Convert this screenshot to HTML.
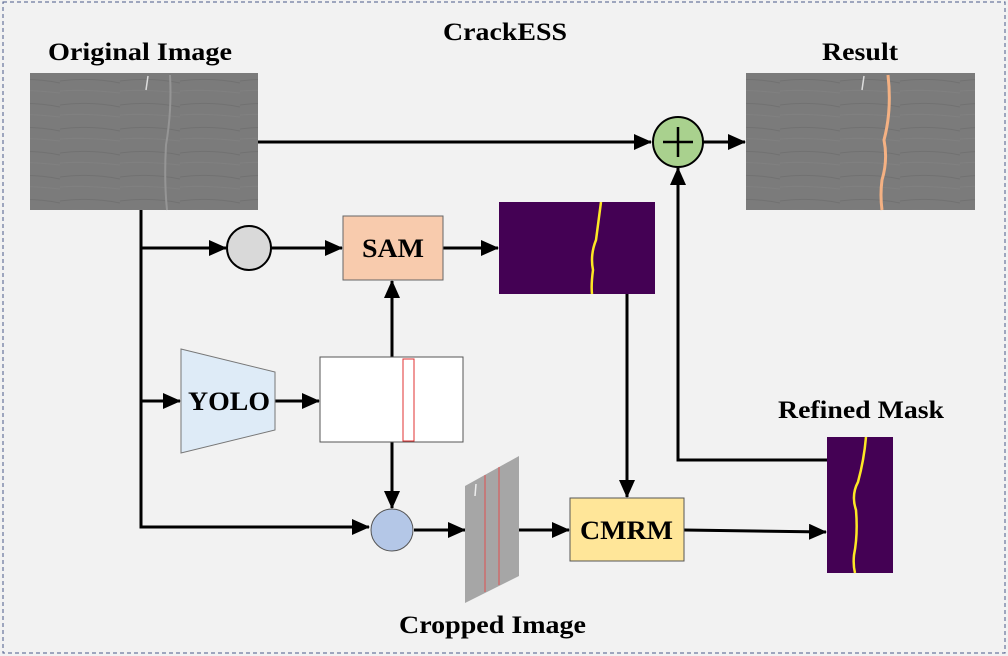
<!DOCTYPE html>
<html><head><meta charset="utf-8"><style>
html,body{margin:0;padding:0;background:#fff}
svg{display:block}
text{font-family:"Liberation Serif",serif;font-weight:bold;fill:#000}
</style></head><body>
<svg width="1008" height="656" viewBox="0 0 1008 656" xmlns="http://www.w3.org/2000/svg">
<defs>
<marker id="b" markerWidth="18" markerHeight="16" refX="17" refY="8" orient="auto" markerUnits="userSpaceOnUse" viewBox="0 0 18 16">
<path d="M0,0 L18,8 L0,16 z" fill="#000"/></marker>
<pattern id="tex" width="60" height="24" patternUnits="userSpaceOnUse">
<rect width="60" height="24" fill="#7b7b7b"/>
<path d="M0,9 Q30,5 60,11" stroke="#717171" stroke-width="1" fill="none"/>
<path d="M0,19 Q25,17 60,21" stroke="#808080" stroke-width="1" fill="none"/>
</pattern>
</defs>
<rect x="0" y="0" width="1008" height="656" fill="#f2f2f2"/>
<rect x="3" y="2" width="1002" height="651" fill="none" stroke="#4a5a8a" stroke-width="1" stroke-dasharray="4,3"/>

<text x="443" y="40" font-size="25" textLength="124" lengthAdjust="spacingAndGlyphs">CrackESS</text>
<text x="48" y="60" font-size="25" textLength="184" lengthAdjust="spacingAndGlyphs">Original Image</text>
<text x="822" y="60" font-size="25" textLength="76" lengthAdjust="spacingAndGlyphs">Result</text>
<text x="778" y="418" font-size="25" textLength="166" lengthAdjust="spacingAndGlyphs">Refined Mask</text>
<text x="399" y="633" font-size="25" textLength="187" lengthAdjust="spacingAndGlyphs">Cropped Image</text>

<rect x="30" y="73" width="228" height="137" fill="url(#tex)"/>
<path d="M170,75 Q172,110 166,145 Q164,180 167,210" stroke="#959595" stroke-width="2" fill="none"/>
<line x1="148" y1="76" x2="146" y2="90" stroke="#ddd" stroke-width="1.5"/>
<rect x="746" y="73" width="229" height="137" fill="url(#tex)"/>
<path d="M888,75 Q892,110 884,140 Q888,160 882,180 Q880,195 882,210" stroke="#f4b183" stroke-width="3" fill="none"/>
<line x1="864" y1="76" x2="862" y2="90" stroke="#ddd" stroke-width="1.5"/>

<g stroke="#000" stroke-width="3" fill="none">
<line x1="258" y1="142" x2="651" y2="142" marker-end="url(#b)"/>
<line x1="703" y1="142" x2="745" y2="142" marker-end="url(#b)"/>
<polyline points="141,210 141,527 369,527" marker-end="url(#b)"/>
<line x1="141" y1="248" x2="226" y2="248" marker-end="url(#b)"/>
<line x1="271" y1="248" x2="342" y2="248" marker-end="url(#b)"/>
<line x1="443" y1="248" x2="498" y2="248" marker-end="url(#b)"/>
<line x1="141" y1="401" x2="180" y2="401" marker-end="url(#b)"/>
<line x1="275" y1="401" x2="319" y2="401" marker-end="url(#b)"/>
<line x1="392" y1="357" x2="392" y2="281" marker-end="url(#b)"/>
<line x1="392" y1="442" x2="392" y2="508" marker-end="url(#b)"/>
<line x1="627" y1="294" x2="627" y2="497" marker-end="url(#b)"/>
<line x1="414" y1="530" x2="465" y2="530" marker-end="url(#b)"/>
<line x1="519" y1="530" x2="569" y2="530" marker-end="url(#b)"/>
<line x1="684" y1="530" x2="826" y2="532" marker-end="url(#b)"/>
<polyline points="827,460 678,460 678,168" marker-end="url(#b)"/>
</g>

<circle cx="678" cy="142" r="25" fill="#a9d18e" stroke="#000" stroke-width="2"/>
<line x1="663" y1="142" x2="693" y2="142" stroke="#000" stroke-width="2.5"/>
<line x1="678" y1="127" x2="678" y2="157" stroke="#000" stroke-width="2.5"/>

<circle cx="249" cy="248" r="22" fill="#d9d9d9" stroke="#000" stroke-width="2"/>
<rect x="343" y="216" width="100" height="64" fill="#f8cbad" stroke="#666" stroke-width="1"/>
<text x="362" y="257" font-size="26" textLength="62" lengthAdjust="spacingAndGlyphs">SAM</text>

<rect x="499" y="202" width="156" height="92" fill="#440154"/>
<path d="M601,202 Q598,225 596,240 Q590,255 593,270 Q591,285 592,294" stroke="#fde725" stroke-width="2.5" fill="none"/>

<polygon points="181,349 275,372 275,430 181,453" fill="#deebf7" stroke="#777" stroke-width="1"/>
<text x="188" y="410" font-size="26" textLength="82" lengthAdjust="spacingAndGlyphs">YOLO</text>
<rect x="320" y="357" width="143" height="85" fill="#fff" stroke="#555" stroke-width="1"/>
<rect x="403" y="359" width="11" height="82" fill="none" stroke="#e03030" stroke-width="1"/>

<circle cx="392" cy="530" r="21" fill="#b4c7e7" stroke="#555" stroke-width="1"/>

<polygon points="465,486 519,456 519,576 465,603" fill="#a6a6a6"/>
<line x1="485" y1="475" x2="485" y2="592" stroke="#e05050" stroke-width="1"/>
<line x1="499" y1="467" x2="499" y2="585" stroke="#e05050" stroke-width="1"/>
<line x1="476" y1="484" x2="475" y2="496" stroke="#eee" stroke-width="1.5"/>

<rect x="570" y="498" width="114" height="63" fill="#ffe699" stroke="#555" stroke-width="1"/>
<text x="580" y="539" font-size="26" textLength="93" lengthAdjust="spacingAndGlyphs">CMRM</text>

<rect x="827" y="437" width="66" height="136" fill="#440154"/>
<path d="M866,437 Q864,460 858,482 Q851,495 856,510 Q858,535 854,555 Q853,565 855,573" stroke="#fde725" stroke-width="2.5" fill="none"/>
</svg>
</body></html>
